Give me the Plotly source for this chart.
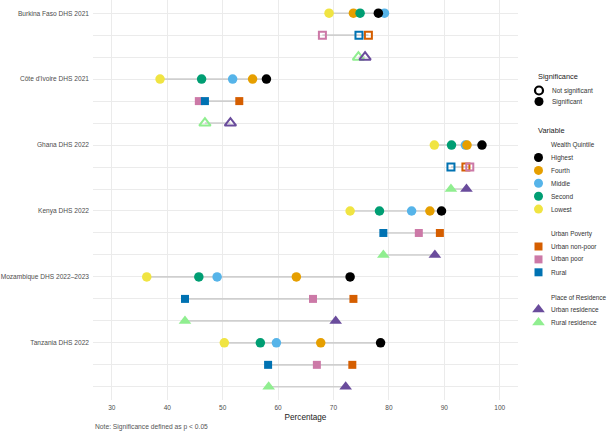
import plotly.graph_objects as go

# ---------------- data ----------------
countries = ["Burkina Faso DHS 2021", "Côte d'Ivoire DHS 2021", "Ghana DHS 2022",
             "Kenya DHS 2022", "Mozambique DHS 2022–2023", "Tanzania DHS 2022"]

# Wealth quintile (percentage)
q_lowest  = [69.2, 38.7, 88.2, 73.0, 36.3, 50.3]
q_second  = [74.8, 46.2, 91.3, 78.3, 45.7, 56.8]
q_middle  = [79.2, 51.8, 93.8, 84.1, 49.0, 59.7]
q_fourth  = [73.6, 55.4, 94.1, 87.4, 63.3, 67.7]
q_highest = [78.1, 57.9, 96.8, 89.5, 73.0, 78.5]

# Urban poverty
p_urban_nonpoor = [76.3, 53.0, 93.9, 89.2, 73.6, 73.4]
p_urban_poor    = [68.0, 45.7, 94.6, 85.4, 66.3, 67.0]
p_rural         = [74.6, 46.8, 91.2, 79.0, 43.2, 58.2]

# Place of residence
r_urban = [75.7, 51.4, 94.0, 88.3, 70.4, 72.2]
r_rural = [74.5, 46.8, 91.2, 79.0, 43.2, 58.3]

# Significance (True = significant, p < 0.05) per variable group
sig_wealth    = [True, True, True, True, True, True]
sig_poverty   = [False, True, False, True, True, True]
sig_residence = [False, False, True, True, True, True]

x_ticks = [30, 40, 50, 60, 70, 80, 90, 100]

# ---------------- styles ----------------
C = {
    "Highest": "#000000", "Fourth": "#E69F00", "Middle": "#56B4E9",
    "Second": "#009E73", "Lowest": "#F0E442",
    "Urban non-poor": "#D55E00", "Urban poor": "#CC79A7", "Rural": "#0072B2",
    "Urban residence": "#6A4C9C", "Rural residence": "#90EE90",
}

groups = [
    ("Wealth Quintile", 0,
     [("Lowest", q_lowest), ("Middle", q_middle), ("Fourth", q_fourth),
      ("Second", q_second), ("Highest", q_highest)],
     sig_wealth, "circle", 9.5),
    ("Urban Poverty", 1,
     [("Urban non-poor", p_urban_nonpoor), ("Urban poor", p_urban_poor), ("Rural", p_rural)],
     sig_poverty, "square", 8),
    ("Place of Residence", 2,
     [("Rural residence", r_rural), ("Urban residence", r_urban)],
     sig_residence, "triangle-up", 11),
]

n = len(countries)
fig = go.Figure()

# connecting segments (min to max per row)
for gname, off, levels, sig, sym, size in groups:
    for i in range(n):
        vals = [v[i] for _, v in levels]
        fig.add_trace(go.Scatter(
            x=[min(vals), max(vals)], y=[i * 3 + off] * 2, mode="lines",
            line=dict(color="#CFCFCF", width=1.6), hoverinfo="skip", showlegend=False))

# points
for gname, off, levels, sig, sym, size in groups:
    for lvl, vals in levels:
        col = C[lvl]
        fig.add_trace(go.Scatter(
            x=vals, y=[i * 3 + off for i in range(n)], mode="markers", name=lvl,
            showlegend=False,
            marker=dict(
                symbol=[sym if s else sym + "-open" for s in sig],
                size=[size if s else size - 1 for s in sig],
                color=col, opacity=1,
                line=dict(color=col, width=[0 if s else 2 for s in sig]),
            ),
        ))

# ---------------- manual legend (own axis, pixel coordinates) ----------------
leg_items = []  # (x, y, symbol, color, size, lw)
leg_text = []   # (x, y, text, size, color)

leg_text.append((536, 76, "Significance", 7.4, "#1a1a1a"))
leg_items.append((539, 90.5, "circle-open", "#000000", 8, 2.2))
leg_text.append((550, 90.5, "Not significant", 6.5, "#333333"))
leg_items.append((539, 101.5, "circle", "#000000", 9, 0))
leg_text.append((550, 101.5, "Significant", 6.5, "#333333"))
leg_text.append((536, 130, "Variable", 7.4, "#1a1a1a"))

legend_groups = [
    ("Wealth Quintile", 145, ["Highest", "Fourth", "Middle", "Second", "Lowest"], "circle", 9),
    ("Urban Poverty", 234, ["Urban non-poor", "Urban poor", "Rural"], "square", 8),
    ("Place of Residence", 297, ["Urban residence", "Rural residence"], "triangle-up", 11),
]
for title, ty, labels, sym, size in legend_groups:
    leg_text.append((549, ty, title, 6.4, "#333333"))
    for k, lab in enumerate(labels):
        yy = ty + 12.5 + k * 12.9
        leg_items.append((538.5, yy, sym, C[lab], size, 0))
        leg_text.append((549, yy, lab, 6.5, "#333333"))

for x, y, sym, col, size, lw in leg_items:
    fig.add_trace(go.Scatter(
        x=[x], y=[y], xaxis="x2", yaxis="y2", mode="markers", showlegend=False,
        hoverinfo="skip",
        marker=dict(symbol=sym, color=col, size=size, opacity=1,
                    line=dict(color=col, width=lw))))

annotations = []
for x, y, t, s, col in leg_text:
    annotations.append(dict(x=x, y=y, xref="x2", yref="y2", text=t, showarrow=False,
                            xanchor="left", yanchor="middle",
                            font=dict(size=s, color=col, family="Liberation Sans, Arial")))

annotations.append(dict(x=0, y=(400 - 427) / 400, xref="paper", yref="paper",
                        text="Note: Significance defined as p < 0.05", showarrow=False,
                        xanchor="left", yanchor="middle",
                        font=dict(size=6.7, color="#555555", family="Liberation Sans, Arial")))

row_vals = list(range(3 * n))
row_text = [countries[r // 3] if r % 3 == 0 else "" for r in row_vals]

plot_w = 514
fig.update_layout(
    width=607, height=432,
    margin=dict(l=93, r=0, t=0, b=32),
    paper_bgcolor="white", plot_bgcolor="white",
    font=dict(family="Liberation Sans, Arial", color="#4D4D4D"),
    showlegend=False,
    xaxis=dict(domain=[0, 425 / plot_w], range=[26.6, 103.3], tickvals=x_ticks,
               ticktext=[str(t) for t in x_ticks],
               showgrid=True, gridcolor="#EBEBEB", gridwidth=0.8, zeroline=False,
               showline=False, ticks="", tickfont=dict(size=6.5, color="#4D4D4D"),
               ticklabelstandoff=2,
               title=dict(text="Percentage", font=dict(size=8.2, color="#1a1a1a"), standoff=4)),
    yaxis=dict(range=[3 * n - 0.4, -0.6], tickvals=row_vals, ticktext=row_text,
               showgrid=True, gridcolor="#EBEBEB", gridwidth=0.8, zeroline=False,
               showline=False, ticks="", ticklabelstandoff=3,
               tickfont=dict(size=6.6, color="#4D4D4D")),
    xaxis2=dict(domain=[(525 - 93) / plot_w, 1], range=[525, 607], visible=False,
                anchor="y2"),
    yaxis2=dict(domain=[0, 1], range=[400, 0], visible=False, anchor="x2"),
    annotations=annotations,
)

fig.write_html("out.html")
